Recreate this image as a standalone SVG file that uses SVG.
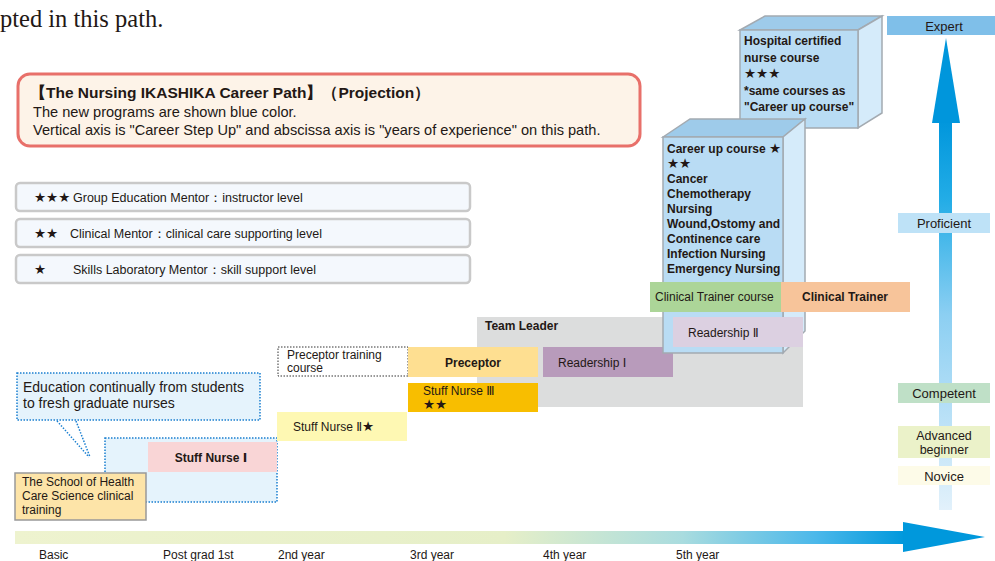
<svg xmlns="http://www.w3.org/2000/svg" width="995" height="561" viewBox="0 0 995 561">
<defs>
<style>
text{font-family:"Liberation Sans","DejaVu Sans",sans-serif;fill:#231815;font-size:12px}
.b{font-weight:bold}
.t13{font-size:13px}
.st{font-size:13.5px}
.leg{fill:#f4f8fd;stroke:#c9c9c9;stroke-width:2.5}
.edge{stroke:#a3aab1;stroke-width:1.5}
.dotb{fill:#e5f3fc;stroke:#1a7fd0;stroke-width:1.5;stroke-dasharray:1.5 1.5}
</style>
<linearGradient id="hg" x1="0" y1="0" x2="1" y2="0">
<stop offset="0" stop-color="#eef3cf"/>
<stop offset="0.55" stop-color="#e6efc8"/>
<stop offset="0.75" stop-color="#a9dcdf"/>
<stop offset="0.9" stop-color="#4bb8ea"/>
<stop offset="1" stop-color="#0098dc"/>
</linearGradient>
<linearGradient id="vg" x1="0" y1="0" x2="0" y2="1">
<stop offset="0" stop-color="#0096dc"/>
<stop offset="0.2" stop-color="#22ace6"/>
<stop offset="0.5" stop-color="#8ccff2"/>
<stop offset="1" stop-color="#e2f1fb"/>
</linearGradient>
</defs>
<rect width="995" height="561" fill="#ffffff"/>
<text x="0" y="27" style="font-family:'Liberation Serif',serif;font-size:24.5px">pted in this path.</text>

<g id="title">
<rect x="18" y="74" width="622" height="72" rx="12" fill="#fdf3e8" stroke="#e8706a" stroke-width="3"/>
<text x="30" y="98" class="b" style="font-size:15.5px">【The Nursing IKASHIKA Career Path】（Projection）</text>
<text x="33" y="117" style="font-size:14.6px">The new programs are shown blue color.</text>
<text x="33" y="135" style="font-size:14.6px">Vertical axis is "Career Step Up" and abscissa axis is "years of experience" on this path.</text>
</g>

<g id="legend1"><rect class="leg" x="16" y="183" width="454" height="28" rx="4"/><text x="34" y="202" class="st">★★★</text><text x="73" y="202" style="font-size:12.5px">Group Education Mentor：instructor level</text></g>
<g id="legend2"><rect class="leg" x="16" y="219" width="454" height="28" rx="4"/><text x="34" y="238" class="st">★★</text><text x="70" y="238" style="font-size:12.5px">Clinical Mentor：clinical care supporting level</text></g>
<g id="legend3"><rect class="leg" x="16" y="255" width="454" height="28" rx="4"/><text x="34" y="274" class="st">★</text><text x="73" y="274" style="font-size:12.5px">Skills Laboratory Mentor：skill support level</text></g>

<g id="axes">
<rect x="15" y="531" width="890" height="13" fill="url(#hg)"/>
<polygon points="903,522 985,537 903,552" fill="#0098dc"/>
<rect x="939" y="120" width="13" height="390" fill="url(#vg)"/>
<polygon points="946,38 960,123 932,123" fill="#0096dc"/>
</g>

<g id="xlabels">
<text x="39" y="559">Basic</text>
<text x="163" y="559">Post grad 1st</text>
<text x="278" y="559">2nd year</text>
<text x="410" y="559">3rd year</text>
<text x="543" y="559">4th year</text>
<text x="676" y="559">5th year</text>
</g>

<g id="callout">
<rect class="dotb" x="17" y="373" width="243" height="47"/>
<line x1="57" y1="421" x2="89" y2="457" stroke="#1a7fd0" stroke-width="1.5" stroke-dasharray="1.5 1.5"/>
<line x1="76" y1="421" x2="90" y2="457" stroke="#1a7fd0" stroke-width="1.5" stroke-dasharray="1.5 1.5"/>
<text x="23" y="392" style="font-size:14px">Education continually from students</text>
<text x="23" y="408" style="font-size:14px">to fresh graduate nurses</text>
</g>

<g id="freshzone"><rect class="dotb" x="105" y="438" width="172" height="64"/></g>
<g id="stuff1"><rect x="148" y="442" width="129" height="30" fill="#f9d5d6"/><text x="211" y="462" class="b" text-anchor="middle">Stuff Nurse Ⅰ</text></g>
<g id="school"><rect x="15" y="473" width="131" height="47" fill="#fde4a8" stroke="#999" stroke-width="1.5"/>
<text x="22" y="486">The School of Health</text><text x="22" y="500">Care Science clinical</text><text x="22" y="514">training</text></g>

<g id="stuff2"><rect x="277" y="412" width="130" height="29" fill="#fef8b3"/><text x="293" y="431">Stuff Nurse Ⅱ<tspan class="st">★</tspan></text></g>
<g id="ptc"><rect x="278" y="347" width="130" height="29" fill="#fff" stroke="#333" stroke-width="1" stroke-dasharray="1.5 1.5"/><text x="287" y="359">Preceptor training</text><text x="287" y="372">course</text></g>
<g id="teamleader"><rect x="477" y="317" width="326" height="90" fill="#dcdddd"/><text x="485" y="330" class="b">Team Leader</text></g>
<g id="preceptor"><rect x="408" y="347" width="130" height="30" fill="#fedf91"/><text x="473" y="367" class="b" text-anchor="middle">Preceptor</text></g>
<g id="stuff3"><rect x="408" y="383" width="130" height="29" fill="#f8be00"/><text x="423" y="395">Stuff Nurse Ⅲ</text><text x="423" y="409" class="st">★★</text></g>
<g id="readership1"><rect x="543" y="347" width="130" height="30" fill="#b89bbb"/><text x="558" y="367">Readership Ⅰ</text></g>

<g id="hospital">
<polygon class="edge" points="740,30 765,16 882,16 858,30" fill="#9ecbea"/>
<polygon class="edge" points="858,30 882,16 882,113 858,128" fill="#d5ebfa"/>
<rect class="edge" x="740" y="30" width="118" height="98" fill="#b9dcf4"/>
<text x="744" y="45" class="b">Hospital certified</text>
<text x="744" y="62" class="b">nurse course</text>
<text x="744" y="78" class="b st">★★★</text>
<text x="744" y="95" class="b">*same courses as</text>
<text x="744" y="111" class="b">"Career up course"</text>
</g>

<g id="careerup">
<polygon class="edge" points="663,137 690,119 805,119 783,137" fill="#9ecbea"/>
<polygon class="edge" points="783,137 805,119 805,331 783,353" fill="#d5ebfa"/>
<rect class="edge" x="663" y="137" width="120" height="216" fill="#b9dcf4"/>
<text x="667" y="153" class="b">Career up course <tspan class="st">★</tspan></text>
<text x="667" y="168" class="b st">★★</text>
<text x="667" y="183" class="b">Cancer</text>
<text x="667" y="198" class="b">Chemotherapy</text>
<text x="667" y="213" class="b">Nursing</text>
<text x="667" y="228" class="b">Wound,Ostomy and</text>
<text x="667" y="243" class="b">Continence care</text>
<text x="667" y="258" class="b">Infection Nursing</text>
<text x="667" y="273" class="b">Emergency Nursing</text>
</g>

<g id="ctcourse"><rect x="650" y="282" width="131" height="30" fill="#acd598"/><text x="655" y="301">Clinical Trainer  course</text></g>
<g id="ctrainer"><rect x="781" y="282" width="129" height="30" fill="#f7c49a"/><text x="845" y="301" class="b" text-anchor="middle">Clinical Trainer</text></g>
<g id="readership2"><rect x="673" y="317" width="130" height="30" fill="#dcd0e1"/><text x="688" y="337">Readership Ⅱ</text></g>

<g id="expert"><rect x="887" y="16" width="108" height="19" fill="#7fbfe9"/><text x="944" y="31" class="t13" text-anchor="middle">Expert</text></g>
<g id="proficient"><rect x="898" y="213" width="92" height="20" fill="#bee2f7"/><text x="944" y="228" class="t13" text-anchor="middle">Proficient</text></g>
<g id="competent"><rect x="898" y="383" width="92" height="20" fill="#bfe0c7"/><text x="944" y="398" class="t13" text-anchor="middle">Competent</text></g>
<g id="advbeg"><rect x="898" y="426" width="92" height="32" fill="#ebf2c9"/><text x="944" y="440" text-anchor="middle" style="font-size:12.5px">Advanced</text><text x="944" y="454" text-anchor="middle" style="font-size:12.5px">beginner</text></g>
<g id="novice"><rect x="898" y="466" width="92" height="19" fill="#fdfbe8"/><text x="944" y="481" class="t13" text-anchor="middle">Novice</text></g>
</svg>
